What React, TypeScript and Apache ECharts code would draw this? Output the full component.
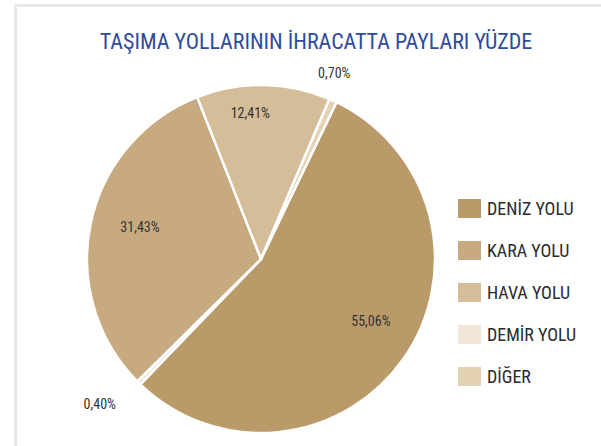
import React, { useEffect, useRef } from "react";
import * as echarts from "echarts";

const titleText = "TAŞIMA YOLLARININ İHRACATTA PAYLARI YÜZDE";
// slice order clockwise as in the picture
const sliceNames = ["DENİZ YOLU", "DEMİR YOLU", "KARA YOLU", "HAVA YOLU", "DİĞER"];
const sliceValues = [55.06, 0.4, 31.43, 12.41, 0.7];
const sliceColors = ["#ba9a69", "#f1e5d8", "#c8aa80", "#d6bd9a", "#e4d2b5"];
const labelOffsets = [[36, 11], [-98, 81], [-33, -13], [-12, -56], [36, -104]];
const legendOrder = ["DENİZ YOLU", "KARA YOLU", "HAVA YOLU", "DEMİR YOLU", "DİĞER"];

const FONT = "'Roboto Condensed', 'Liberation Sans', Arial, sans-serif";

export default function App() {
  const ref = useRef<HTMLDivElement>(null);
  useEffect(() => {
    if (!ref.current) return;
    const chart = echarts.init(ref.current, undefined, { renderer: "svg" });
    chart.setOption({
      animation: false,
      backgroundColor: "#ffffff",
      title: {
        text: titleText,
        left: 316,
        top: 30,
        padding: 0,
        textAlign: "center",
        textStyle: { fontFamily: FONT, fontSize: 22, fontWeight: "normal", color: "#2e4b9b" },
      },
      graphic: [
        {
          type: "rect",
          shape: { x: 15.5, y: 5.5, width: 700, height: 600 },
          style: { fill: "none", stroke: "#e8e8e8", lineWidth: 3 },
          silent: true,
        },
      ],
      legend: {
        orient: "vertical",
        left: 456,
        top: 197,
        padding: 0,
        itemWidth: 25,
        itemHeight: 21,
        itemGap: 19,
        icon: "rect",
        data: legendOrder,
        textStyle: { fontFamily: FONT, fontSize: 18, color: "#2b2b2b" },
        selectedMode: false,
      },
      series: [
        {
          type: "pie",
          center: [261, 259],
          radius: 174,
          startAngle: 64.3,
          clockwise: true,
          avoidLabelOverlap: false,
          itemStyle: { borderColor: "#ffffff", borderWidth: 2.5 },
          label: {
            show: true,
            position: "inside",
            fontFamily: FONT,
            fontSize: 14,
            color: "#333333",
            formatter: (p: any) => p.value.toFixed(2).replace(".", ",") + "%",
          },
          labelLine: { show: false },
          emphasis: { disabled: true },
          data: sliceNames.map((n, i) => ({
            name: n,
            value: sliceValues[i],
            itemStyle: { color: sliceColors[i] },
            label: { offset: labelOffsets[i] },
          })),
        },
      ],
    });
    return () => chart.dispose();
  }, []);
  return (
    <div
      ref={ref}
      style={{ position: "absolute", left: 0, top: 0, width: 601, height: 446 }}
    />
  );
}
